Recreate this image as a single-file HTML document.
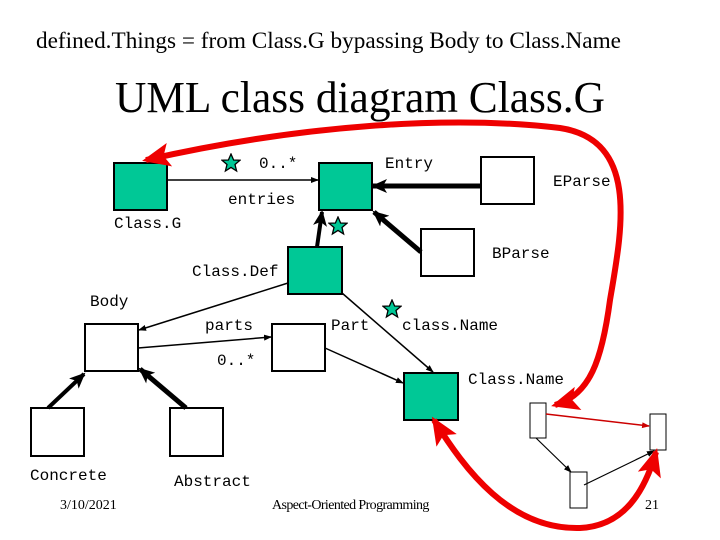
<!DOCTYPE html>
<html><head><style>
body{margin:0;background:#fff}
svg{display:block}
.m{font-family:"Liberation Mono",monospace;font-size:16px;fill:#000}
.s{font-family:"Liberation Serif",serif;fill:#000}
</style></head><body>
<svg width="720" height="540" viewBox="0 0 720 540" xmlns="http://www.w3.org/2000/svg">
<defs>
<marker id="a" markerWidth="8" markerHeight="8" refX="7" refY="4" orient="auto" markerUnits="userSpaceOnUse"><path d="M0,1 L8,4 L0,7z" fill="#000"/></marker>
<marker id="b" markerWidth="16" markerHeight="14" refX="14" refY="7" orient="auto" markerUnits="userSpaceOnUse"><path d="M0,0 L16,7 L0,14 L4,7z" fill="#000"/></marker>
<marker id="r" markerWidth="28" markerHeight="24" refX="24" refY="12" orient="auto-start-reverse" markerUnits="userSpaceOnUse"><path d="M0,0 L28,12 L0,24 L6,12z" fill="#e00"/></marker>
<marker id="rs" markerWidth="8" markerHeight="8" refX="7" refY="4" orient="auto" markerUnits="userSpaceOnUse"><path d="M0,1 L8,4 L0,7z" fill="#c00"/></marker>
<symbol id="st" viewBox="-10 -10 20 20"><polygon points="0,-9 2.6,-3 9,-2.8 4,1.5 5.6,8 0,4.4 -5.6,8 -4,1.5 -9,-2.8 -2.6,-3" fill="#00c896" stroke="#000" stroke-width="1.3"/></symbol>
</defs>
<text class="s" x="36" y="48" font-size="23" textLength="585" lengthAdjust="spacingAndGlyphs">defined.Things = from Class.G bypassing Body to Class.Name</text>
<text class="s" x="115" y="112" font-size="44" textLength="490" lengthAdjust="spacingAndGlyphs">UML class diagram Class.G</text>
<g stroke="#000" stroke-width="2">
<rect x="114" y="163" width="53" height="47" fill="#00c896"/>
<rect x="319" y="163" width="53" height="47" fill="#00c896"/>
<rect x="481" y="157" width="53" height="47" fill="#fff"/>
<rect x="421" y="229" width="53" height="47" fill="#fff"/>
<rect x="288" y="247" width="54" height="47" fill="#00c896"/>
<rect x="85" y="324" width="53" height="47" fill="#fff"/>
<rect x="272" y="324" width="53" height="47" fill="#fff"/>
<rect x="404" y="373" width="54" height="47" fill="#00c896"/>
<rect x="31" y="408" width="53" height="48" fill="#fff"/>
<rect x="170" y="408" width="53" height="48" fill="#fff"/>
</g>
<g stroke="#000" stroke-width="1" fill="#fff">
<rect x="530" y="403" width="16" height="35"/>
<rect x="650" y="414" width="16" height="36"/>
<rect x="570" y="472" width="17" height="36"/>
</g>
<g stroke="#000" fill="none">
<line x1="167" y1="180" x2="318" y2="180" stroke-width="1.5" marker-end="url(#a)"/>
<line x1="481" y1="186" x2="373" y2="186" stroke-width="5" marker-end="url(#b)"/>
<line x1="421" y1="252" x2="374" y2="212" stroke-width="5" marker-end="url(#b)"/>
<line x1="317" y1="247" x2="322" y2="212" stroke-width="4" marker-end="url(#b)"/>
<line x1="288" y1="283" x2="139" y2="330" stroke-width="1.5" marker-end="url(#a)"/>
<line x1="138" y1="348" x2="271" y2="337" stroke-width="1.5" marker-end="url(#a)"/>
<line x1="325" y1="348" x2="403" y2="383" stroke-width="1.5" marker-end="url(#a)"/>
<line x1="342" y1="293" x2="433" y2="372" stroke-width="1.5" marker-end="url(#a)"/>
<line x1="48" y1="408" x2="84" y2="374" stroke-width="4" marker-end="url(#b)"/>
<line x1="186" y1="408" x2="140" y2="369" stroke-width="5" marker-end="url(#b)"/>
<line x1="536" y1="438" x2="571" y2="472" stroke-width="1.2" marker-end="url(#a)"/>
<line x1="584" y1="485" x2="654" y2="451" stroke-width="1.2" marker-end="url(#a)"/>
</g>
<line x1="546" y1="414" x2="649" y2="426" stroke="#c00" stroke-width="1.5" marker-end="url(#rs)"/>
<path d="M555,405 C590,395 602,360 610,300 C622,230 640,140 560,128 C450,115 300,125 146,160" stroke="#e00" stroke-width="6" fill="none" marker-start="url(#r)" marker-end="url(#r)"/>
<path d="M434,420 C465,470 510,530 580,528 C625,526 645,490 656,452" stroke="#e00" stroke-width="6" fill="none" marker-start="url(#r)" marker-end="url(#r)"/>
<use href="#st" x="221" y="153" width="20" height="20"/>
<use href="#st" x="328" y="216" width="20" height="20"/>
<use href="#st" x="382" y="299" width="20" height="20"/>
<text class="m" x="259" y="168">0..*</text>
<text class="m" x="385" y="168">Entry</text>
<text class="m" x="228" y="204">entries</text>
<text class="m" x="114" y="228">Class.G</text>
<text class="m" x="553" y="186">EParse</text>
<text class="m" x="492" y="258">BParse</text>
<text class="m" x="192" y="276">Class.Def</text>
<text class="m" x="90" y="306">Body</text>
<text class="m" x="205" y="330">parts</text>
<text class="m" x="217" y="365">0..*</text>
<text class="m" x="331" y="330">Part</text>
<text class="m" x="402" y="330">class.Name</text>
<text class="m" x="468" y="384">Class.Name</text>
<text class="m" x="30" y="480">Concrete</text>
<text class="m" x="174" y="486">Abstract</text>
<text class="s" x="60" y="509" font-size="14">3/10/2021</text>
<text class="s" x="272" y="509" font-size="14" letter-spacing="-0.6">Aspect-Oriented Programming</text>
<text class="s" x="645" y="509" font-size="14">21</text>
</svg>
</body></html>
